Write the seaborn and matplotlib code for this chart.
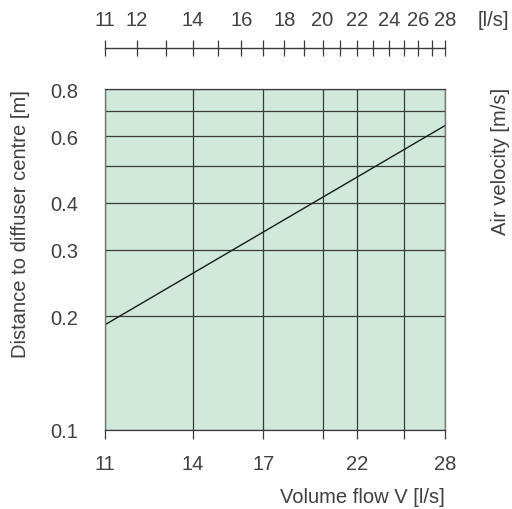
import matplotlib
matplotlib.use("Agg")
import matplotlib.pyplot as plt
import matplotlib.ticker as mticker
import seaborn as sns
import pandas as pd

# data
flow = [11, 28]
distance = [0.19, 0.64]

bottom_ticks = [11, 14, 17, 20, 22, 25, 28]
bottom_labels = ["11", "14", "17", "", "22", "", "28"]
y_ticks = [0.1, 0.2, 0.3, 0.4, 0.5, 0.6, 0.7, 0.8]
y_labels = ["0.1", "0.2", "0.3", "0.4", "", "0.6", "", "0.8"]
top_ticks = list(range(11, 29))
top_labeled = [11, 12, 14, 16, 18, 20, 22, 24, 26, 28]

sns.set_theme(style="white")
plt.rcParams["font.family"] = ["Liberation Sans", "DejaVu Sans"]

TXT = "#404040"
GRID = "#3a3a3a"
FILL = "#d0e9da"
FS = 14.5

fig = plt.figure(figsize=(5.12, 5.10), dpi=100)
ax = fig.add_axes([105 / 512, 79 / 510, 340 / 512, 341 / 510])
ax.set_facecolor(FILL)

df = pd.DataFrame({"flow": flow, "distance": distance})
sns.lineplot(data=df, x="flow", y="distance", ax=ax, color="#1a1a1a", lw=1.0)

ax.set_xscale("log")
ax.set_yscale("log")
ax.set_xlim(11, 28)
ax.set_ylim(0.1, 0.8)

ax.xaxis.set_major_locator(mticker.FixedLocator(bottom_ticks))
ax.xaxis.set_major_formatter(mticker.FixedFormatter(bottom_labels))
ax.xaxis.set_minor_locator(mticker.NullLocator())
ax.yaxis.set_major_locator(mticker.FixedLocator(y_ticks))
ax.yaxis.set_major_formatter(mticker.FixedFormatter(y_labels))
ax.yaxis.set_minor_locator(mticker.NullLocator())

ax.grid(True, which="major", color=GRID, lw=0.9)
ax.tick_params(axis="x", which="major", direction="out", length=6.5, width=0.9,
               color=GRID, labelcolor=TXT, labelsize=FS, pad=11)
ax.tick_params(axis="y", which="major", direction="out", length=6, width=0.9,
               color=GRID, labelcolor=TXT, labelsize=FS, pad=13)
for s in ["left", "right"]:
    ax.spines[s].set_color("#777777")
    ax.spines[s].set_linewidth(1.0)
for s in ["top", "bottom"]:
    ax.spines[s].set_color(GRID)
    ax.spines[s].set_linewidth(0.9)

ax.set_xlabel("Volume flow V [l/s]", loc="right", color=TXT, fontsize=FS, labelpad=10)
ax.set_ylabel("Distance to diffuser centre [m]", loc="top", color=TXT, fontsize=FS, labelpad=15)

# top scale
ax2 = ax.twiny()
ax2.set_xscale("log")
ax2.set_xlim(11, 28)
ax2.xaxis.set_major_locator(mticker.FixedLocator(top_ticks))
ax2.xaxis.set_major_formatter(mticker.FixedFormatter(
    [str(t) if t in top_labeled else "" for t in top_ticks]))
ax2.xaxis.set_minor_locator(mticker.NullLocator())
for s in ["left", "right", "bottom"]:
    ax2.spines[s].set_visible(False)
ax2.spines["top"].set_position(("outward", 29.5))
ax2.spines["top"].set_color(GRID)
ax2.spines["top"].set_linewidth(1.0)
ax2.tick_params(axis="x", direction="inout", length=11.5, width=0.9, color=GRID,
                labelcolor=TXT, labelsize=FS, pad=8)
fig.text(493 / 512, 1 - 20 / 510, "[l/s]", color=TXT, fontsize=FS,
         ha="center", va="center")

# right label
fig.text(501 / 512, 1 - 88 / 510, "Air velocity [m/s]", rotation=90, ha="center",
         va="top", color=TXT, fontsize=FS)

fig.savefig("out.png", dpi=100)
